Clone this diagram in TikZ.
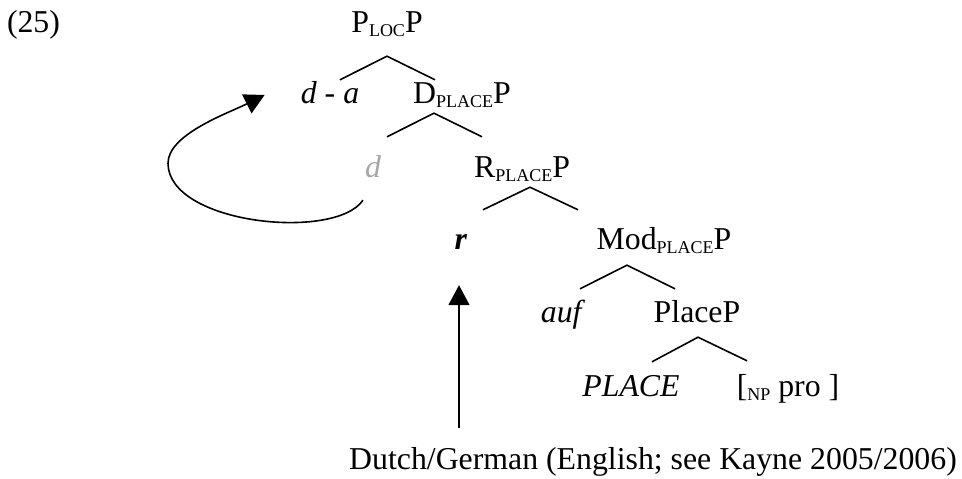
\documentclass[tikz,border=0pt]{standalone}
\usepackage{fontspec}
\setmainfont{Liberation Serif}
\usetikzlibrary{arrows.meta, positioning, calc}
\newcommand{\subcat}[1]{\raisebox{-4pt}{\fontsize{18}{18}\selectfont #1}}
\tikzstyle{cat} = [inner sep=0pt, text height=22pt, text depth=7pt, font=\fontsize{31.8}{38}\selectfont]
\tikzstyle{branch} = [line width=1.6pt]
\tikzstyle{arrow} = [line width=1.6pt, -{Triangle[length=20pt, width=21pt]}]

\begin{document}
\begin{tikzpicture}[x=1pt, y=1pt, on grid]
\useasboundingbox (0,0) rectangle (962,479);
		\node (ploc) [cat] at (387,453.5) {P\subcat{LOC}P};
		\node (ex) [cat, left=353.5pt of ploc] {(25)};
		\node (da) [cat, below left=71pt and 57pt of ploc] {\textit{d} - \textit{a}};
		\node (dplace) [cat, below right=71pt and 75pt of ploc] {D\subcat{PLACE}P};
		\node (trace) [cat, text=black!35, below left=74pt and 89pt of dplace] {\textit{d}};
		\node (rplace) [cat, below right=74pt and 60pt of dplace] {R\subcat{PLACE}P};
		\node (rr) [cat, below left=72pt and 61pt of rplace] {\textbf{\textit{r}}};
		\node (mod) [cat, below right=72pt and 142pt of rplace] {Mod\subcat{PLACE}P};
		\node (auf) [cat, below left=73pt and 101pt of mod] {\textit{auf}};
		\node (placep) [cat, below right=73pt and 33pt of mod] {PlaceP};
		\node (place) [cat, below left=74pt and 66pt of placep] {\textit{PLACE}};
		\node (np) [cat, below right=74pt and 91pt of placep] {[\subcat{NP} pro ]};
		\node (dutch) [cat, below right=73pt and 22pt of place] {Dutch/German (English; see Kayne 2005/2006)};

		% branches
		\draw [branch] ($(da.north)+(10,2)$) -- ($(ploc.south)+(0,-16)$) -- ($(dplace.north)+(-27,2)$);
		\draw [branch] ($(trace.north)+(14,19)$) -- ($(dplace.south)+(-28,-2)$) -- ($(rplace.north)+(-40,19)$);
		\draw [branch] ($(rr.north)+(22,18)$) -- ($(rplace.south)+(8,-2)$) -- ($(mod.north)+(-86,18)$);
		\draw [branch] ($(auf.north)+(17,12)$) -- ($(mod.south)+(-37,-8)$) -- ($(placep.north)+(-22,12)$);
		\draw [branch] ($(place.north)+(21,13)$) -- ($(placep.south)+(1,-7)$) -- ($(np.north)+(-41,14)$);

		% movement
		\draw [arrow] ($(trace.south)+(-10,-15)$) .. controls +(-28,-41) and +(0,-61) .. ++(-195,37) .. controls +(0,29) and +(-36,-18) .. ($(da.west)+(-36,1.5)$);
		\draw [arrow] ($(dutch.north -| rr.south)+(-2,20)$) -- ($(rr.south)+(-2,-28)$);
\end{tikzpicture}
\end{document}
